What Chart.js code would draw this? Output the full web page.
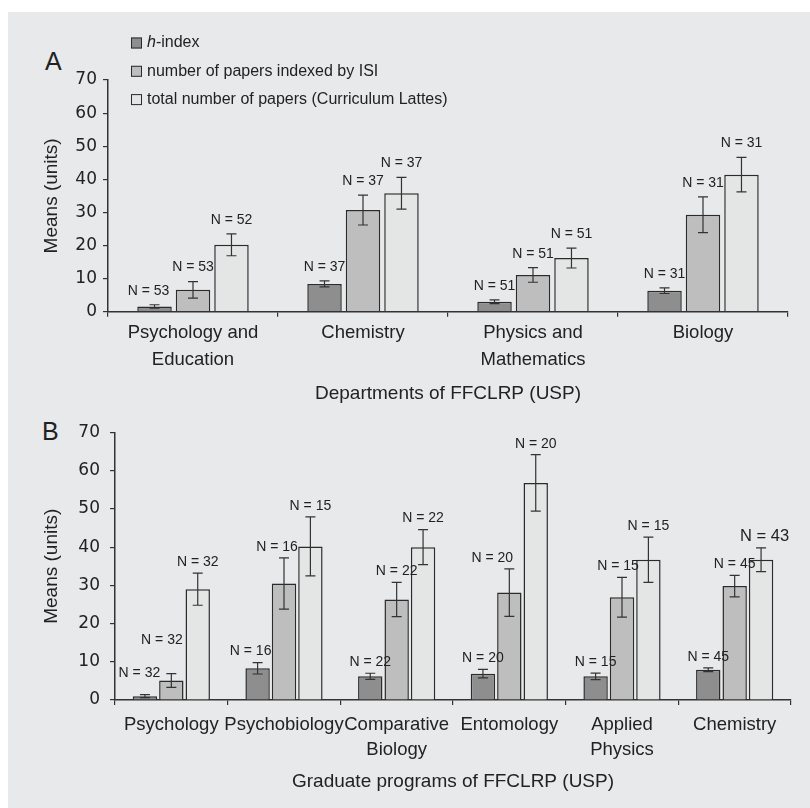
<!DOCTYPE html>
<html><head><meta charset="utf-8">
<script src="https://cdn.jsdelivr.net/npm/chart.js@4.4.0/dist/chart.umd.min.js"></script>
<style>
html,body{margin:0;padding:0;background:#fff;}
body{width:810px;height:808px;position:relative;overflow:hidden;}
#panel{position:absolute;left:8px;top:12px;right:0;bottom:0;background:#e8e9eb;}
#wrapA{position:absolute;left:0;top:0;width:810px;height:405px;}
#wrapB{position:absolute;left:0;top:405px;width:810px;height:403px;}
.tag{position:absolute;font-family:'Liberation Sans',Arial,sans-serif;font-size:25px;color:#222;line-height:1;}
</style></head>
<body>
<div id="panel"></div>
<div class="tag" style="left:45px;top:49px">A</div>
<div class="tag" style="left:42px;top:419px">B</div>
<div id="wrapA"><canvas id="chartA"></canvas></div>
<div id="wrapB"><canvas id="chartB"></canvas></div>
<script>
// ---------- Data ----------
const seriesLabels = ['h-index', 'number of papers indexed by ISI', 'total number of papers (Curriculum Lattes)'];

// Panel A: Departments
const deptCategories = [['Psychology and', 'Education'], 'Chemistry', ['Physics and', 'Mathematics'], 'Biology'];
const deptHIndex     = [1.6, 8.4, 3.0, 6.35];
const deptHIndexErr  = [0.5, 0.9, 0.55, 0.85];
const deptIsi        = [6.6, 30.7, 11.1, 29.3];
const deptIsiErr     = [2.5, 4.5, 2.2, 5.4];
const deptTotal      = [20.2, 35.8, 16.2, 41.4];
const deptTotalErr   = [3.3, 4.8, 3.0, 5.2];
const deptNHIndex    = [53, 37, 51, 31];
const deptNIsi       = [53, 37, 51, 31];
const deptNTotal     = [52, 37, 51, 31];

// Panel B: Graduate programs
const progCategories = ['Psychology', 'Psychobiology', ['Comparative', 'Biology'], 'Entomology', ['Applied', 'Physics'], 'Chemistry'];
const progHIndex     = [1.0, 8.3, 6.2, 6.9, 6.2, 7.9];
const progHIndexErr  = [0.4, 1.5, 0.8, 1.1, 0.85, 0.5];
const progIsi        = [5.1, 30.5, 26.3, 28.1, 26.9, 29.8];
const progIsiErr     = [1.8, 6.7, 4.5, 6.2, 5.2, 2.8];
const progTotal      = [29.0, 40.2, 40.0, 56.8, 36.7, 36.7];
const progTotalErr   = [4.2, 7.7, 4.6, 7.4, 5.9, 3.1];
const progNHIndex    = [32, 16, 22, 20, 15, 45];
const progNIsi       = [32, 16, 22, 20, 15, 45];
const progNTotal     = [32, 15, 22, 20, 15, 43];

const yTicks = [0, 10, 20, 30, 40, 50, 60, 70];

// ---------- Styles ----------
const fills = ['#8e8e8e', '#bebebe', '#e4e5e5'];
const edge = '#2b2b2b';
const ink = '#222';

const errorBarPlugin = {
  id: 'errorBars',
  afterDatasetsDraw(chart, args, opts) {
    const ctx = chart.ctx, ys = chart.scales.y;
    const tweaks = opts.tweaks || {};
    chart.data.datasets.forEach((ds, i) => {
      const meta = chart.getDatasetMeta(i);
      meta.data.forEach((bar, j) => {
        const v = ds.data[j], e = ds.errors[j];
        const top = ys.getPixelForValue(v + e), bot = ys.getPixelForValue(v - e);
        ctx.save();
        ctx.strokeStyle = opts.color; ctx.lineWidth = opts.width;
        ctx.beginPath();
        ctx.moveTo(bar.x, top); ctx.lineTo(bar.x, bot);
        ctx.moveTo(bar.x - opts.cap / 2, top); ctx.lineTo(bar.x + opts.cap / 2, top);
        ctx.moveTo(bar.x - opts.cap / 2, bot); ctx.lineTo(bar.x + opts.cap / 2, bot);
        ctx.stroke();
        const t = tweaks[i + '-' + j] || {};
        ctx.fillStyle = opts.textColor;
        ctx.font = (t.size || opts.size) + 'px ' + opts.family;
        ctx.textAlign = 'center'; ctx.textBaseline = 'middle';
        ctx.fillText('N = ' + ds.counts[j], bar.x + (t.dx || 0), top - opts.labelOffset + (t.dy || 0));
        ctx.restore();
      });
    });
  }
};

const legendPlugin = {
  id: 'boxLegend',
  afterDraw(chart, args, opts) {
    if (!opts || !opts.display) return;
    const ctx = chart.ctx;
    chart.data.datasets.forEach((ds, i) => {
      const cy = opts.y + i * opts.spacing;
      ctx.save();
      ctx.fillStyle = ds.backgroundColor;
      ctx.fillRect(opts.x, cy - opts.box / 2, opts.box, opts.box);
      ctx.strokeStyle = ds.borderColor; ctx.lineWidth = 1;
      ctx.strokeRect(opts.x + 0.5, cy - opts.box / 2 + 0.5, opts.box - 1, opts.box - 1);
      ctx.fillStyle = opts.color; ctx.textBaseline = 'middle'; ctx.textAlign = 'left';
      let tx = opts.x + opts.box + 5;
      let label = ds.label;
      if (ds.legendItalic && label.startsWith(ds.legendItalic)) {
        ctx.font = 'italic ' + opts.size + 'px ' + opts.family;
        ctx.fillText(ds.legendItalic, tx, cy);
        tx += ctx.measureText(ds.legendItalic).width;
        label = label.slice(ds.legendItalic.length);
      }
      ctx.font = opts.size + 'px ' + opts.family;
      ctx.fillText(label, tx, cy);
      ctx.restore();
    });
  }
};

function makeDatasets(h, he, hn, isi, ie, inn, tot, te, tn, barPct) {
  const base = {borderColor: edge, borderWidth: 1.5, borderSkipped: 'start', barPercentage: barPct};
  return [
    Object.assign({label: seriesLabels[0], data: h, errors: he, counts: hn, backgroundColor: fills[0], legendItalic: 'h'}, base),
    Object.assign({label: seriesLabels[1], data: isi, errors: ie, counts: inn, backgroundColor: fills[1]}, base),
    Object.assign({label: seriesLabels[2], data: tot, errors: te, counts: tn, backgroundColor: fills[2]}, base)
  ];
}

function makeOptions(cfg) {
  return {
    responsive: true, maintainAspectRatio: false, animation: false,
    layout: {padding: cfg.pad},
    datasets: {bar: {categoryPercentage: cfg.catPct}},
    plugins: {
      legend: {display: false}, tooltip: {enabled: false},
      errorBars: {color: '#333', width: 1.2, cap: 10, textColor: ink, size: 14,
                  family: '"Liberation Sans", Arial, sans-serif', labelOffset: cfg.labelOffset, tweaks: cfg.tweaks},
      boxLegend: cfg.legend
    },
    scales: {
      x: {
        grid: {display: true, offset: true, drawOnChartArea: false, drawTicks: true, tickLength: 5, color: '#333', lineWidth: 1.2},
        border: {display: true, color: '#333', width: 1.5},
        ticks: {color: ink, font: {family: 'Liberation Sans', size: 18.5, lineHeight: cfg.tickLH}, padding: cfg.tickPad, maxRotation: 0, autoSkip: false},
        title: {display: true, text: cfg.xTitle, color: ink, font: {family: 'Liberation Sans', size: 19, lineHeight: 1.2}, padding: {top: 0, bottom: 0}},
        afterFit(s) { s.height = cfg.xHeight; }
      },
      y: {
        min: 0, max: 70,
        afterBuildTicks(s) { s.ticks = yTicks.map(v => ({value: v})); },
        ticks: {color: ink, font: {family: 'DejaVu Sans', size: 17}, padding: cfg.yPad},
        grid: {drawOnChartArea: false, drawTicks: true, tickLength: 5, color: '#333', lineWidth: 1.2},
        border: {display: true, color: '#333', width: 1.5},
        title: {display: true, text: 'Means (units)', color: ink, font: {family: 'Liberation Sans', size: 19, lineHeight: 1.2}, padding: {top: 40.6, bottom: 0}},
        afterFit(s) { s.width = cfg.yWidth; }
      }
    }
  };
}

new Chart(document.getElementById('chartA'), {
  type: 'bar',
  data: {
    labels: deptCategories,
    datasets: makeDatasets(deptHIndex, deptHIndexErr, deptNHIndex, deptIsi, deptIsiErr, deptNIsi, deptTotal, deptTotalErr, deptNTotal, 0.896)
  },
  options: makeOptions({
    pad: {top: 80, right: 22, bottom: 0, left: 0}, catPct: 0.679, labelOffset: 14,
    tickLH: 1.46, tickPad: 2.8, xTitle: 'Departments of FFCLRP (USP)', xHeight: 93.3, yPad: 6, yWidth: 108,
    tweaks: {'0-0': {dx: -6}},
    legend: {display: true, x: 131, y: 43, spacing: 28.3, box: 11, size: 16, family: '"Liberation Sans", Arial, sans-serif', color: ink}
  }),
  plugins: [errorBarPlugin, legendPlugin]
});

new Chart(document.getElementById('chartB'), {
  type: 'bar',
  data: {
    labels: progCategories,
    datasets: makeDatasets(progHIndex, progHIndexErr, progNHIndex, progIsi, progIsiErr, progNIsi, progTotal, progTotalErr, progNTotal, 0.924)
  },
  options: makeOptions({
    pad: {top: 27.5, right: 19, bottom: 14.9, left: 0}, catPct: 0.703, labelOffset: 11,
    tickLH: 1.35, tickPad: 7.5, xTitle: 'Graduate programs of FFCLRP (USP)', xHeight: 93.1, yPad: 10, yWidth: 115,
    tweaks: {'0-0': {dx: -5.5, dy: -10.7}, '1-0': {dx: -9.4, dy: -22.7}, '0-1': {dx: -7}, '1-1': {dx: -7},
             '1-3': {dx: -17}, '1-4': {dx: -4}, '2-5': {dx: 3.5, size: 16.5}},
    legend: {display: false}
  }),
  plugins: [errorBarPlugin]
});
</script>
</body></html>
